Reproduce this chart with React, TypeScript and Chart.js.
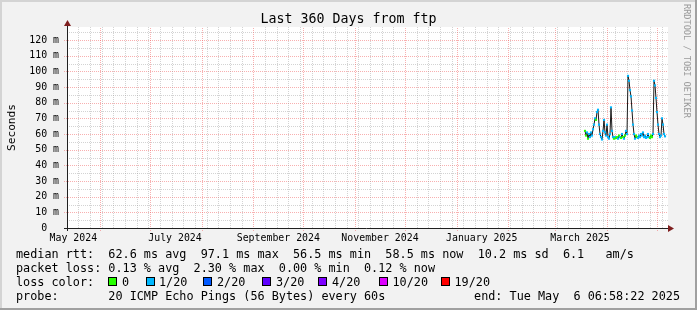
import React, { useEffect, useRef } from 'react';
import { Chart, registerables } from 'chart.js';

Chart.register(...registerables);

// ---------- text ----------
const chartTitle = 'Last 360 Days from ftp';
const yAxisTitle = 'Seconds';
const sideText = 'RRDTOOL / TOBI OETIKER';

// ---------- x axis (days since 2024-05-01 00:00) ----------
const axisStartDay = 11.2;
const axisEndDay = 371.2;
const monthStartDays = [31, 61, 92, 123, 153, 184, 214, 245, 276, 304, 335, 365];
const monthLabelDays = [15, 76, 138, 199, 260, 319];
const monthLabels = ['May 2024', 'July 2024', 'September 2024', 'November 2024', 'January 2025', 'March 2025'];
const firstSundayDay = 11;

// ---------- y axis (milliseconds) ----------
const yMax = 128.3;
const yTickValues = [0, 10, 20, 30, 40, 50, 60, 70, 80, 90, 100, 110, 120];
const yMinorValues = [5, 15, 25, 35, 45, 55, 65, 75, 85, 95, 105, 115, 125];

// ---------- series: median rtt (ms), one sample per 0.6 day ----------
const sampleStartDay = 322;
const sampleStepDays = 0.6;
const medianRtt = [
  62, 59, 61, 57, 60, 58, 61, 59, 63, 66,
  70, 69, 74, 75.5, 66, 60, 58, 56.5, 62, 69,
  61, 59, 66, 58, 57, 60, 77, 62, 58, 57,
  58, 57.5, 58, 57, 59, 58, 57.5, 60, 58, 57,
  59, 62, 60, 97.1, 94, 88, 84, 75, 66, 60,
  57, 59, 58, 57.5, 59, 58, 60, 59, 61, 58,
  59, 57.5, 58, 60, 58, 57.5, 59, 58, 60, 94,
  91, 83, 74, 66, 60, 58, 59, 70, 66, 60,
  58.5,
];
// packet loss per sample, in twentieths
const lossTwentieths = [
  0, 0, 1, 0, 1, 1, 1, 1, 1, 1,
  1, 0, 1, 1, 1, 1, 1, 1, 1, 1,
  1, 1, 1, 1, 1, 1, 1, 1, 1, 0,
  1, 0, 0, 1, 0, 1, 0, 1, 0, 1,
  0, 1, 1, 1, 1, 1, 1, 1, 1, 1,
  1, 0, 0, 1, 1, 1, 1, 1, 1, 1,
  1, 1, 1, 1, 1, 0, 0, 0, 1, 1,
  1, 1, 1, 1, 1, 1, 1, 1, 1, 1,
  1,
];

// ---------- loss legend ----------
const lossThresholds = [0, 1, 2, 3, 4, 10, 19];
const lossLabels = ['0', '1/20', '2/20', '3/20', '4/20', '10/20', '19/20'];
const lossColors = ['#26ff00', '#00b8ff', '#0059ff', '#5e00ff', '#7e00ff', '#dd00ff', '#ff0000'];
const lossBoxX = [108, 146, 203, 262, 318, 379, 441];
const lossTextX = [122, 159, 217, 276, 332, 392.5, 454.5];

// ---------- legend rows ----------
const legendMedian = 'median rtt:  62.6 ms avg  97.1 ms max  56.5 ms min  58.5 ms now  10.2 ms sd  6.1   am/s';
const legendLoss = 'packet loss: 0.13 % avg  2.30 % max  0.00 % min  0.12 % now';
const legendColorTitle = 'loss color:';
const legendProbe = 'probe:       20 ICMP Echo Pings (56 Bytes) every 60s';
const legendEnd = 'end: Tue May  6 06:58:22 2025';

const MONO = '"DejaVu Sans Mono", monospace';

function lossColor(l: number): string {
  let c = lossColors[0];
  for (let i = 0; i < lossThresholds.length; i++) {
    if (l >= lossThresholds[i]) c = lossColors[i];
  }
  return c;
}

function dottedLine(ctx: CanvasRenderingContext2D, x1: number, y1: number, x2: number, y2: number, color: string) {
  ctx.strokeStyle = color;
  ctx.lineWidth = 1;
  ctx.setLineDash([1, 1]);
  ctx.beginPath();
  ctx.moveTo(x1, y1);
  ctx.lineTo(x2, y2);
  ctx.stroke();
  ctx.setLineDash([]);
}

const MINOR = 'rgba(150,150,150,0.42)';
const MAJOR = 'rgba(240,90,90,0.48)';

const decorPlugin = {
  id: 'rrdDecor',
  beforeDraw(chart: any) {
    const { ctx, chartArea: a, width, height } = chart;
    const xs = chart.scales.x;
    const ys = chart.scales.y;
    ctx.save();
    ctx.fillStyle = '#f2f2f2';
    ctx.fillRect(0, 0, width, height);
    ctx.fillStyle = '#d4d4d4';
    ctx.fillRect(0, 0, width, 2);
    ctx.fillRect(0, 0, 2, height);
    ctx.fillStyle = '#a0a0a0';
    ctx.fillRect(0, height - 2, width, 2);
    ctx.fillRect(width - 2, 0, 2, height);
    ctx.fillStyle = '#ffffff';
    ctx.fillRect(a.left, a.top, a.right - a.left + 1, a.bottom - a.top);

    // horizontal grid
    for (const v of yMinorValues) {
      if (v > yMax) continue;
      const y = Math.round(ys.getPixelForValue(v)) + 0.5;
      dottedLine(ctx, a.left, y, a.right + 1, y, MINOR);
    }
    for (const v of yTickValues) {
      if (v === 0) continue;
      const y = Math.round(ys.getPixelForValue(v)) + 0.5;
      dottedLine(ctx, a.left - 3, y, a.right + 1, y, MAJOR);
    }
    // vertical grid
    for (let d = firstSundayDay; d <= axisEndDay; d += 7) {
      if (d < axisStartDay) continue;
      if (monthStartDays.some((m) => Math.abs(m - d) < 0.5)) continue;
      const x = Math.round(xs.getPixelForValue(d)) + 0.5;
      dottedLine(ctx, x, a.bottom, x, a.top, MINOR);
    }
    for (const d of monthStartDays) {
      const x = Math.round(xs.getPixelForValue(d)) + 0.5;
      dottedLine(ctx, x, a.bottom + 3, x, a.top, MAJOR);
    }
    ctx.restore();
  },
  afterDatasetsDraw(chart: any) {
    const { ctx, chartArea: a, width } = chart;
    ctx.save();
    // axes
    ctx.strokeStyle = '#202020';
    ctx.lineWidth = 1;
    ctx.beginPath();
    ctx.moveTo(a.left + 0.5, a.bottom + 3);
    ctx.lineTo(a.left + 0.5, a.top - 1);
    ctx.moveTo(a.left - 3, a.bottom + 0.5);
    ctx.lineTo(a.right + 2, a.bottom + 0.5);
    ctx.stroke();
    ctx.fillStyle = '#7f1f1f';
    ctx.beginPath();
    ctx.moveTo(a.left + 0.5, a.top - 7);
    ctx.lineTo(a.left - 3, a.top - 1);
    ctx.lineTo(a.left + 4, a.top - 1);
    ctx.closePath();
    ctx.fill();
    ctx.beginPath();
    ctx.moveTo(a.right + 7, a.bottom + 0.5);
    ctx.lineTo(a.right + 1, a.bottom - 3);
    ctx.lineTo(a.right + 1, a.bottom + 4);
    ctx.closePath();
    ctx.fill();

    // title
    ctx.fillStyle = '#000';
    ctx.font = `13.3px ${MONO}`;
    ctx.textAlign = 'center';
    ctx.textBaseline = 'alphabetic';
    ctx.fillText(chartTitle, width / 2, 22.5);

    // y-axis title
    ctx.save();
    ctx.font = `11.2px ${MONO}`;
    ctx.translate(14.5, (a.top + a.bottom) / 2);
    ctx.rotate(-Math.PI / 2);
    ctx.textAlign = 'center';
    ctx.fillText(yAxisTitle, 0, 0);
    ctx.restore();

    // side text
    ctx.save();
    ctx.fillStyle = '#9a9a9a';
    ctx.font = `8.6px ${MONO}`;
    ctx.translate(683.5, 4);
    ctx.rotate(Math.PI / 2);
    ctx.textAlign = 'left';
    ctx.fillText(sideText, 0, 0);
    ctx.restore();

    // legend
    ctx.fillStyle = '#000';
    ctx.font = `11.8px ${MONO}`;
    ctx.textAlign = 'left';
    const rowY = [257.5, 271.6, 285.7, 299.8];
    ctx.fillText(legendMedian, 16, rowY[0]);
    ctx.fillText(legendLoss, 16, rowY[1]);
    ctx.fillText(legendColorTitle, 16, rowY[2]);
    ctx.fillText(legendProbe, 16, rowY[3]);
    ctx.textAlign = 'right';
    ctx.fillText(legendEnd, 680, rowY[3]);
    ctx.textAlign = 'left';
    for (let i = 0; i < lossLabels.length; i++) {
      ctx.fillStyle = lossColors[i];
      ctx.fillRect(lossBoxX[i], 277, 9, 9);
      ctx.strokeStyle = '#000';
      ctx.lineWidth = 1;
      ctx.strokeRect(lossBoxX[i] + 0.5, 277.5, 8, 8);
      ctx.fillStyle = '#000';
      ctx.fillText(lossLabels[i], lossTextX[i], rowY[2]);
    }
    ctx.restore();
  },
};

export default function App() {
  const ref = useRef<HTMLCanvasElement | null>(null);

  useEffect(() => {
    if (!ref.current) return;
    const points = medianRtt.map((v, i) => ({ x: sampleStartDay + i * sampleStepDays, y: v }));
    const colors = lossTwentieths.map((l) => lossColor(l));
    const chart = new Chart(ref.current, {
      type: 'line',
      data: {
        datasets: [
          {
            data: points,
            borderColor: '#1c1c1c',
            borderWidth: 1,
            pointRadius: 0,
            tension: 0,
            fill: false,
            order: 2,
          },
          {
            data: points,
            showLine: false,
            pointStyle: 'rect',
            pointRadius: 1.5,
            pointBorderWidth: 0,
            pointBackgroundColor: colors,
            pointBorderColor: colors,
            order: 1,
          },
        ],
      },
      options: {
        responsive: false,
        animation: false,
        devicePixelRatio: 1,
        layout: { padding: { top: 27, right: 30, left: 0, bottom: 0 } },
        plugins: {
          legend: { display: false },
          tooltip: { enabled: false },
          title: { display: false },
        },
        scales: {
          x: {
            type: 'linear',
            min: axisStartDay,
            max: axisEndDay,
            afterBuildTicks: (s: any) => {
              s.ticks = monthLabelDays.map((v) => ({ value: v }));
            },
            afterFit: (s: any) => {
              s.height = 82;
            },
            grid: { display: false, drawTicks: false },
            border: { display: false },
            ticks: {
              autoSkip: false,
              maxRotation: 0,
              minRotation: 0,
              padding: 4,
              color: '#000',
              font: { family: MONO, size: 9.9 },
              callback: (_v: any, i: number) => monthLabels[i],
            },
          },
          y: {
            min: 0,
            max: yMax,
            afterBuildTicks: (s: any) => {
              s.ticks = yTickValues.map((v) => ({ value: v }));
            },
            afterFit: (s: any) => {
              s.width = 67;
            },
            grid: { display: false, drawTicks: false },
            border: { display: false },
            ticks: {
              padding: 8,
              color: '#000',
              font: { family: MONO, size: 9.9 },
              callback: (v: any) => (Number(v) === 0 ? '0  ' : `${v} m`),
            },
          },
        },
      },
      plugins: [decorPlugin],
    });
    return () => chart.destroy();
  }, []);

  return (
    <div style={{ position: 'fixed', left: 0, top: 0, width: 697, height: 310 }}>
      <canvas ref={ref} width={697} height={310} style={{ display: 'block', width: 697, height: 310 }} />
    </div>
  );
}
